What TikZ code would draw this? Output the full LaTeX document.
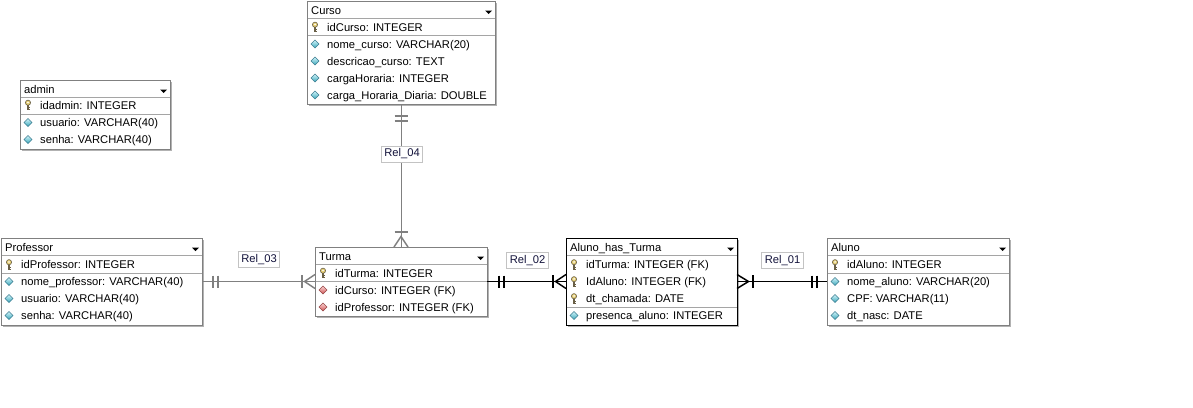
\documentclass[tikz,border=0pt]{standalone}
\usepackage{fontspec}
\setmainfont{Liberation Sans}
\usetikzlibrary{calc}
\definecolor{boxgray}{RGB}{128,128,128}
\definecolor{shadowgray}{RGB}{178,178,178}
\definecolor{sepgray}{RGB}{165,165,165}
\definecolor{linegray}{RGB}{128,128,128}
\definecolor{lblgray}{RGB}{195,195,195}
\definecolor{lbltext}{RGB}{20,20,60}
\definecolor{attrtop}{RGB}{210,245,250}
\definecolor{attrbot}{RGB}{55,165,185}
\definecolor{attredge}{RGB}{60,125,145}
\definecolor{fktop}{RGB}{252,210,210}
\definecolor{fkbot}{RGB}{205,85,85}
\definecolor{fkedge}{RGB}{150,70,70}
\definecolor{keyfill}{RGB}{228,205,115}
\definecolor{keyedge}{RGB}{105,95,70}
\tikzset{
  tblbox/.style={fill=white, inner sep=0pt, outer sep=0pt, anchor=north west, line width=1pt},
  hdr/.style={anchor=base west, inner sep=0pt, font=\fontsize{11.2}{13}\selectfont},
  fld/.style={anchor=base west, inner sep=0pt, font=\fontsize{11.2}{13}\selectfont},
  sepline/.style={draw=sepgray, line width=1pt},
  relg/.style={draw=linegray, line width=1pt},
  relb/.style={draw=black, line width=1pt},
  barg/.style={draw=linegray, line width=2pt},
  barb/.style={draw=black, line width=2pt},
  crowg/.style={draw=linegray, line width=1.5pt},
  crowb/.style={draw=black, line width=1.5pt},
  lbl/.style={draw=lblgray, fill=white, line width=0.8pt, inner xsep=3pt, inner ysep=2.6pt,
    text height=8.2pt, text depth=2.4pt, text=lbltext, font=\fontsize{11.2}{13}\selectfont},
  keyic/.pic={
    \draw[keyedge, fill=keyfill, line width=0.6pt] (0,-2.3) circle[radius=2.6];
    \fill[white] (0,-2.6) circle[radius=0.9];
    \fill[keyedge] (-0.6,0.3) rectangle (0.6,5);
    \fill[keyedge] (0.6,2.3) rectangle (2,3.1);
    \fill[keyedge] (0.6,4) rectangle (2,4.8);
  },
  attric/.pic={
    \shadedraw[top color=attrtop, bottom color=attrbot, draw=attredge, line width=0.5pt]
      (-4,0) -- (0,-4) -- (4,0) -- (0,4) -- cycle;
  },
  fkic/.pic={
    \shadedraw[top color=fktop, bottom color=fkbot, draw=fkedge, line width=0.5pt]
      (-4,0) -- (0,-4) -- (4,0) -- (0,4) -- cycle;
  }
}
% name, L, T, W, H, title, frame colour
\newcommand\ertable[7]{%
  \fill[shadowgray] (#2+2,#3+2) rectangle (#2+#4+2,#3+#5+2);
  \node[tblbox, draw=#7, minimum width=#4pt, minimum height=#5pt] (#1) at (#2,#3) {};
  \draw[sepline] (#2+0.5,#3+17) -- (#2+#4-0.5,#3+17);
  \node[hdr] (#1-title) at (#2+4,#3+13) {#6};
  \fill (#2+#4-10,#3+9.5) -- ++(7,0) -- ++(-3.5,3.5) -- cycle;
}
% node name, L, y centre, icon, text
\newcommand\erfield[5]{%
  \pic at (#2+8,#3) {#4};
  \node[fld] (#1) at (#2+20,#3+4) {#5};
}
% L, W, y
\newcommand\ersep[3]{\draw[sepline] (#1+0.5,#3) -- (#1+#2-0.5,#3);}
\begin{document}
\begin{tikzpicture}[x=1pt, y=-1pt]
\useasboundingbox (0,0) rectangle (1193,407);
\fill[white] (0,0) rectangle (1193,407);

% Curso
\ertable{curso}{307}{1}{188}{103}{Curso}{boxgray}
\erfield{cu1}{307}{27}{keyic}{idCurso: INTEGER}
\ersep{307}{188}{35}
\erfield{cu2}{307}{44}{attric}{nome\_curso: VARCHAR(20)}
\erfield{cu3}{307}{61}{attric}{descricao\_curso: TEXT}
\erfield{cu4}{307}{78}{attric}{cargaHoraria: INTEGER}
\erfield{cu5}{307}{95}{attric}{carga\_Horaria\_Diaria: DOUBLE}

% admin
\ertable{admin}{20}{80}{150}{69}{admin}{boxgray}
\erfield{ad1}{20}{105}{keyic}{idadmin: INTEGER}
\ersep{20}{150}{114}
\erfield{ad2}{20}{122.5}{attric}{usuario: VARCHAR(40)}
\erfield{ad3}{20}{139.5}{attric}{senha: VARCHAR(40)}

% Professor
\ertable{prof}{1}{238}{201}{87}{Professor}{boxgray}
\erfield{pr1}{1}{264.5}{keyic}{idProfessor: INTEGER}
\ersep{1}{201}{273}
\erfield{pr2}{1}{281.5}{attric}{nome\_professor: VARCHAR(40)}
\erfield{pr3}{1}{298.5}{attric}{usuario: VARCHAR(40)}
\erfield{pr4}{1}{315.5}{attric}{senha: VARCHAR(40)}

% Turma
\ertable{turma}{315}{247}{172}{69}{Turma}{boxgray}
\erfield{tu1}{315}{273}{keyic}{idTurma: INTEGER}
\ersep{315}{172}{281}
\erfield{tu2}{315}{290}{fkic}{idCurso: INTEGER (FK)}
\erfield{tu3}{315}{307}{fkic}{idProfessor: INTEGER (FK)}

% Aluno_has_Turma
\ertable{aht}{566}{238}{171}{87}{Aluno\_has\_Turma}{black}
\erfield{ah1}{566}{264.5}{keyic}{idTurma: INTEGER (FK)}
\erfield{ah2}{566}{281.5}{keyic}{IdAluno: INTEGER (FK)}
\erfield{ah3}{566}{298.5}{keyic}{dt\_chamada: DATE}
\ersep{566}{171}{307}
\erfield{ah4}{566}{315.5}{attric}{presenca\_aluno: INTEGER}

% Aluno
\ertable{aluno}{827}{238}{182}{87}{Aluno}{boxgray}
\erfield{al1}{827}{264.5}{keyic}{idAluno: INTEGER}
\ersep{827}{182}{273}
\erfield{al2}{827}{281.5}{attric}{nome\_aluno: VARCHAR(20)}
\erfield{al3}{827}{298.5}{attric}{CPF: VARCHAR(11)}
\erfield{al4}{827}{315.5}{attric}{dt\_nasc: DATE}

% Rel_04 : Curso -- Turma
\coordinate (c4) at (curso.south -| turma.north);
\draw[relg] (c4) -- (turma.north);
\draw[barg] ($(c4)+(-6.5,12)$) -- ++(13,0);
\draw[barg] ($(c4)+(-6.5,17)$) -- ++(13,0);
\draw[barg] ($(turma.north)+(-6.5,-15)$) -- ++(13,0);
\draw[crowg] ($(turma.north)+(-7,0)$) -- ($(turma.north)+(0,-10.5)$) -- ($(turma.north)+(7,0)$);
\node[lbl] (r04) at (402,154) {Rel\_04};

% Rel_03 : Professor -- Turma
\draw[relg] (prof.east) -- (turma.west);
\draw[barg] ($(prof.east)+(11,-6)$) -- ++(0,12);
\draw[barg] ($(prof.east)+(16,-6)$) -- ++(0,12);
\draw[barg] ($(turma.west)+(-13,-6.5)$) -- ++(0,13);
\draw[crowg] ($(turma.west)+(0,-7)$) -- ($(turma.west)+(-10.5,0)$) -- ($(turma.west)+(0,7)$);
\node[lbl] (r03) at (259,259.5) {Rel\_03};

% Rel_02 : Turma -- Aluno_has_Turma
\draw[relb] (turma.east) -- (aht.west);
\draw[barb] ($(turma.east)+(12,-6)$) -- ++(0,12);
\draw[barb] ($(turma.east)+(17,-6)$) -- ++(0,12);
\draw[barb] ($(aht.west)+(-13,-6.5)$) -- ++(0,13);
\draw[crowb] ($(aht.west)+(0,-7)$) -- ($(aht.west)+(-10.5,0)$) -- ($(aht.west)+(0,7)$);
\node[lbl] (r02) at (527.5,260.5) {Rel\_02};

% Rel_01 : Aluno_has_Turma -- Aluno
\draw[relb] (aht.east) -- (aluno.west);
\draw[crowb] ($(aht.east)+(0,-7)$) -- ($(aht.east)+(11.5,0)$) -- ($(aht.east)+(0,7)$);
\draw[barb] ($(aht.east)+(15.5,-6.5)$) -- ++(0,13);
\draw[barb] ($(aluno.west)+(-15,-6)$) -- ++(0,12);
\draw[barb] ($(aluno.west)+(-10,-6)$) -- ++(0,12);
\node[lbl] (r01) at (782.5,260.5) {Rel\_01};
\end{tikzpicture}
\end{document}
